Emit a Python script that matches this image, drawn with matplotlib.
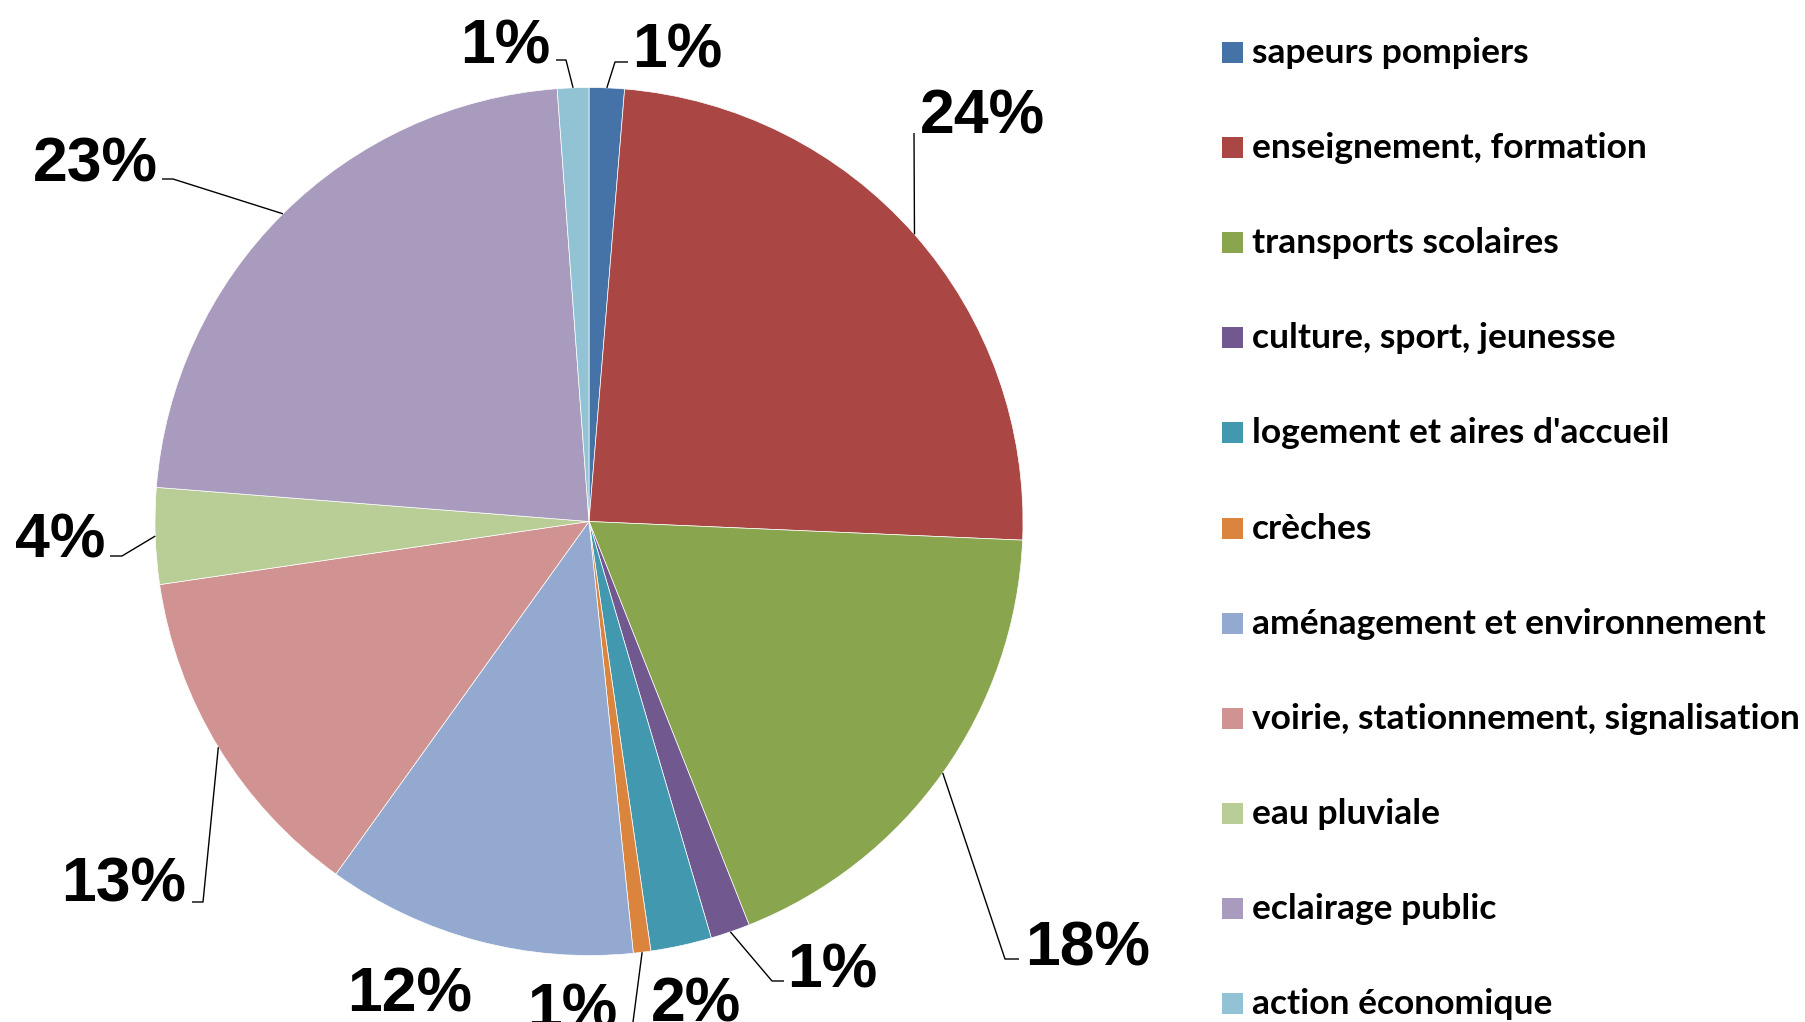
import numpy as np
import matplotlib
matplotlib.use("Agg")
from matplotlib import pyplot as plt
from matplotlib.patches import Rectangle

# data (share of total, in %)
categories = ["sapeurs pompiers", "enseignement, formation", "transports scolaires",
              "culture, sport, jeunesse", "logement et aires d'accueil", "crèches",
              "aménagement et environnement", "voirie, stationnement, signalisation",
              "eau pluviale", "eclairage public", "action économique"]
shares = [1.31, 24.4, 18.32, 1.47, 2.27, 0.65, 11.55, 12.78, 3.58, 22.6, 1.17]
colors = ["#4572A7", "#AA4643", "#89A54E", "#71588F", "#4198AF", "#DB843D",
          "#93A9CF", "#D19392", "#B9CD96", "#A99BBD", "#92C3D5"]

W, H = 1805, 1022
cx, cy, R = 589, 521.5, 434

# label layout in pixels (x, baseline y) and leader elbow / end points (None = no leader)
label_pos = [(677, 67), (982, 133), (1088, 965), (832, 987), (696, 1021), (572, 1027),
             (410, 1011), (124, 902), (60, 557), (95, 181), (505, 63)]
leaders = [((615, 62), (628, 62)), ((914, 133), (914, 133)), ((1005, 959), (1019, 959)),
           ((772, 981), (784, 981)), None, ((630, 1045), (620, 1045)), None,
           ((203, 902), (192, 902)), ((122, 556), (110, 556)), ((173, 179), (162, 179)),
           ((566, 60), (556, 60))]

fig = plt.figure(figsize=(W / 100, H / 100), dpi=100)
ax = fig.add_axes([0, 0, 1, 1])

wedges, _ = ax.pie(shares, colors=colors, startangle=90, counterclock=False,
                   center=(cx, H - cy), radius=R,
                   wedgeprops=dict(edgecolor="white", linewidth=0.5))
ax.set_xlim(0, W)
ax.set_ylim(0, H)
ax.set_axis_off()

total = sum(shares)
for w, s, (lx, ly), ld in zip(wedges, shares, label_pos, leaders):
    ax.text(lx, H - ly, "{:.0f}%".format(s / total * 100), ha="center", va="baseline",
            fontsize=45, fontweight="bold", family="Liberation Sans", color="black")
    if ld is None:
        continue
    mid = np.deg2rad((w.theta1 + w.theta2) / 2)
    x0 = cx + R * np.cos(mid)
    y0 = (H - cy) + R * np.sin(mid)
    (ex, ey), (fx, fy) = ld
    ax.plot([x0, ex, fx], [y0, H - ey, H - fy], color="black", lw=1.0,
            solid_capstyle="butt")

# legend drawn row by row
for i, (name, c) in enumerate(zip(categories, colors)):
    base = 63 + i * 95.1
    ax.add_patch(Rectangle((1222, H - base), 21, 21, facecolor=c, edgecolor="none"))
    ax.text(1252, H - base, name, ha="left", va="baseline", fontsize=25.5,
            fontweight="bold", family="Lato", color="black")

fig.savefig("out.png", dpi=100)
